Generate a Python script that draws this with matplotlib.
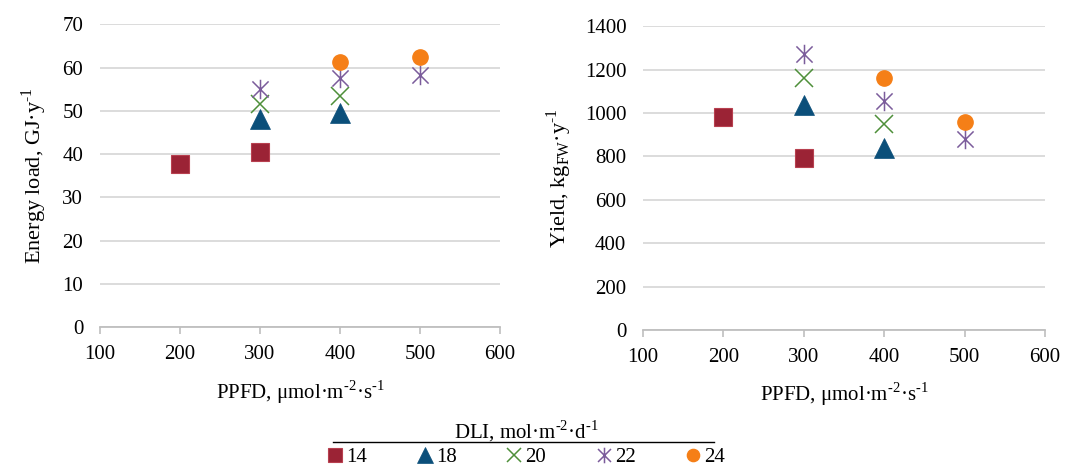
import matplotlib.pyplot as plt
import numpy as np
from matplotlib.path import Path
from matplotlib.lines import Line2D

plt.rcParams['font.family'] = ['Liberation Serif', 'DejaVu Serif']
plt.rcParams['mathtext.fontset'] = 'custom'
plt.rcParams['mathtext.rm'] = 'Liberation Serif'

dli_labels = ['14', '18', '20', '22', '24']

# PPFD values per DLI group
ppfd = {
    '14': [200, 300],
    '18': [300, 400],
    '20': [300, 400],
    '22': [300, 400, 500],
    '24': [400, 500],
}
energy = {
    '14': [37.8, 40.5],
    '18': [48.0, 49.5],
    '20': [51.5, 53.5],
    '22': [55.0, 57.5, 58.3],
    '24': [61.2, 62.5],
}
yield_fw = {
    '14': [980, 790],
    '18': [1035, 840],
    '20': [1160, 950],
    '22': [1270, 1055, 880],
    '24': [1160, 960],
}

# asterisk marker: X plus vertical bar
star = Path([(-1, -1), (1, 1), (-1, 1), (1, -1), (0, -1.2), (0, 1.2)],
            [Path.MOVETO, Path.LINETO, Path.MOVETO, Path.LINETO, Path.MOVETO, Path.LINETO])

styles = {
    '14': dict(marker='s', color='#9b2335', ms=13, mec='#b8404f', mew=0.8),
    '18': dict(marker='^', color='#0b4f7a', ms=14, mec='#0b4f7a', mew=0.5),
    '20': dict(marker='x', color='#4e8f3a', ms=13, mew=1.1),
    '22': dict(marker=star, color='#7b5c9b', ms=14, mew=1.1),
    '24': dict(marker='o', color='#f57f17', ms=11, mec='#f57f17'),
}

def sup(s):
    return r'$^{\mathregular{' + s + '}}$'

m2 = sup('‐2')
m1 = sup('‐1')

fig = plt.figure(figsize=(10.69, 4.66), dpi=100)
ax1 = fig.add_axes([0.0935, 0.298, 0.3742, 0.650])
ax2 = fig.add_axes([0.6015, 0.292, 0.3761, 0.652])

grid_c = '#d9d9d9'
for ax, data, ylim, ystep in [(ax1, energy, 70, 10), (ax2, yield_fw, 1400, 200)]:
    for k in dli_labels:
        ax.plot(ppfd[k], data[k], linestyle='none', label=k, **styles[k])
    ax.set_xlim(100, 600)
    ax.set_ylim(0, ylim)
    ax.set_xticks(np.arange(100, 601, 100))
    ax.set_yticks(np.arange(0, ylim + 1, ystep))
    ax.grid(axis='y', color=grid_c, linewidth=1.3)
    ax.set_axisbelow(True)
    for s in ['top', 'right', 'left']:
        ax.spines[s].set_visible(False)
    ax.spines['bottom'].set_color('#bfbfbf')
    ax.spines['bottom'].set_linewidth(1.3)
    ax.tick_params(axis='x', colors='#bfbfbf', length=5, width=1.2, labelcolor='black',
                   labelsize=15, pad=8)
    ax.tick_params(axis='y', length=0, labelsize=15, pad=12)
    ax.set_xlabel('PPFD, μmol·m' + m2 + '·s' + m1, fontsize=15, labelpad=10)

ax1.set_ylabel('Energy load, GJ·y' + m1, fontsize=16, labelpad=10)
ax2.set_ylabel('Yield, kg' + r'$_{\mathregular{FW}}$' + '·y' + m1, fontsize=16, labelpad=8)

handles, labels = ax1.get_legend_handles_labels()
leg = fig.legend(handles, labels, loc='lower center', bbox_to_anchor=(0.492, -0.03), ncol=5,
                 frameon=False, fontsize=15, handlelength=0.8, handletextpad=0.15,
                 columnspacing=2.35, markerscale=0.8,
                 title='DLI, mol·m' + m2 + '·d' + m1,
                 title_fontsize=15, borderpad=0.1, labelspacing=0.2)
fig.add_artist(Line2D([333 / 1069, 714 / 1069], [1 - 442 / 466, 1 - 442 / 466],
                      color='black', linewidth=1.0, transform=fig.transFigure))

fig.savefig('out.png', dpi=100)
